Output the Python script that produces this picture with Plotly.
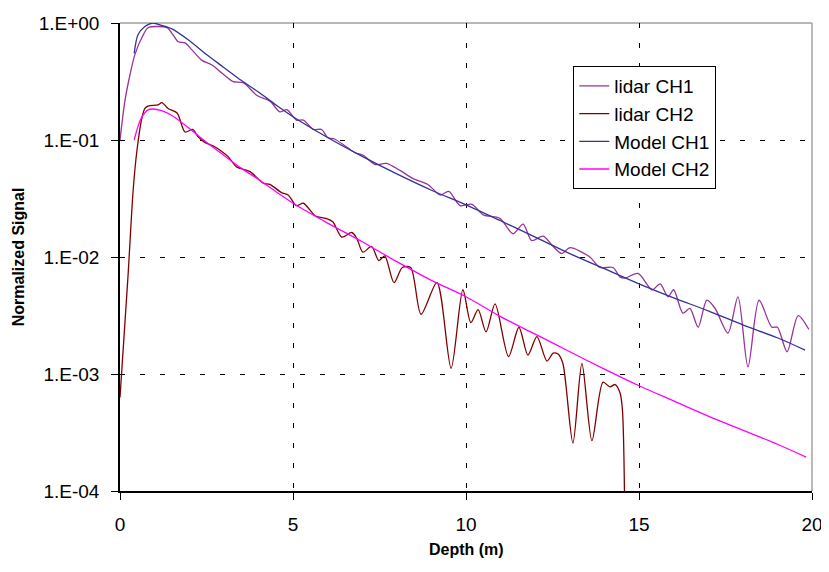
import plotly.graph_objects as go

# ---- data ----
lidar_ch1_x = [0.0, 0.14, 0.29, 0.43, 0.64, 0.81, 1.1, 1.36, 1.53, 1.68, 1.88, 2.08, 2.37, 2.66, 2.95,
               3.27, 3.56, 3.96, 4.34, 4.62, 4.82, 5.1, 5.3, 5.59, 5.83, 6.0, 6.2, 6.55, 6.8, 7.03,
               7.37, 7.7, 8.09, 8.47, 8.9, 9.25, 9.5, 9.83, 10.17, 10.5, 10.98, 11.36, 11.65, 11.9,
               12.23, 12.52, 12.77, 13.0, 13.58, 13.87, 14.25, 14.45, 14.6, 14.97, 15.38, 15.61,
               15.84, 16.0, 16.27, 16.47, 16.71, 16.96, 17.2, 17.57, 17.86, 18.15, 18.47, 18.84,
               19.0, 19.28, 19.6, 19.91]
lidar_ch1_y = [0.100, 0.214, 0.363, 0.537, 0.759, 0.912, 0.933, 0.912, 0.794, 0.692, 0.676, 0.589,
               0.479, 0.437, 0.372, 0.316, 0.309, 0.240, 0.214, 0.174, 0.182, 0.148, 0.148, 0.123,
               0.123, 0.105, 0.102, 0.0871, 0.0776, 0.0741, 0.0617, 0.0631, 0.0550, 0.0468, 0.0417,
               0.0339, 0.0363, 0.0275, 0.0282, 0.0229, 0.0214, 0.0158, 0.0191, 0.0138, 0.0151,
               0.0123, 0.0107, 0.0120, 0.0100, 0.00813, 0.00813, 0.00676, 0.00661, 0.00724,
               0.00525, 0.00589, 0.00457, 0.00525, 0.00331, 0.00363, 0.00251, 0.00427, 0.00363,
               0.00224, 0.00457, 0.00115, 0.00427, 0.00251, 0.00251, 0.00155, 0.00316, 0.00240]

lidar_ch2_x = [0.0, 0.23, 0.38, 0.49, 0.64, 0.72, 0.81, 1.1, 1.21, 1.39, 1.65, 1.88, 2.1, 2.25, 2.45,
               2.75, 2.95, 3.12, 3.37, 3.76, 4.14, 4.33, 4.67, 4.86, 5.1, 5.3, 5.65, 5.95, 6.15,
               6.41, 6.7, 6.84, 7.02, 7.27, 7.48, 7.65, 7.92, 8.16, 8.4, 8.7, 9.16, 9.57, 9.91,
               10.14, 10.35, 10.58, 10.84, 11.23, 11.53, 11.79, 12.05, 12.34, 12.52, 12.66, 12.8,
               13.09, 13.35, 13.64, 13.96, 14.16, 14.31, 14.45, 14.52, 14.6]
lidar_ch2_y = [0.00063, 0.00676, 0.0372, 0.0813, 0.158, 0.186, 0.195, 0.200, 0.209, 0.186, 0.170,
               0.117, 0.123, 0.107, 0.0955, 0.0871, 0.0794, 0.0724, 0.0589, 0.0537, 0.0427,
               0.0417, 0.0355, 0.0339, 0.0275, 0.0288, 0.0224, 0.0214, 0.0200, 0.0148, 0.0162,
               0.0145, 0.0110, 0.0123, 0.00933, 0.0102, 0.00603, 0.00813, 0.00813, 0.00324,
               0.00603, 0.00112, 0.00525, 0.00275, 0.00355, 0.00229, 0.00398, 0.00141, 0.00251,
               0.00145, 0.00209, 0.00129, 0.00151, 0.00148, 0.00123, 0.000257, 0.00123, 0.000269,
               0.000851, 0.000776, 0.000813, 0.000692, 0.0005, 0.00003]

model_ch1_x = [0.41, 0.52, 0.72, 0.95, 1.2, 1.5, 2.0, 2.5, 3.0, 3.5, 4.0, 4.5, 5.0, 6.0, 7.0, 8.0,
               9.0, 10.0, 11.0, 12.0, 13.0, 14.0, 15.0, 16.0, 17.0, 18.0, 19.0, 19.8]
model_ch1_y = [0.550, 0.794, 0.933, 1.0, 0.955, 0.891, 0.708, 0.537, 0.417, 0.324, 0.257, 0.200,
               0.158, 0.105, 0.0724, 0.0513, 0.0372, 0.0279, 0.0204, 0.0148, 0.0107, 0.00794,
               0.00589, 0.00447, 0.00347, 0.00263, 0.00204, 0.00160]

model_ch2_x = [0.41, 0.6, 0.8, 0.95, 1.2, 1.5, 2.0, 2.5, 3.0, 3.5, 4.0, 4.5, 5.0, 6.0, 7.0, 8.0,
               9.0, 10.0, 11.0, 12.0, 13.0, 14.0, 15.0, 16.0, 17.0, 18.0, 19.0, 19.83]
model_ch2_y = [0.100, 0.151, 0.180, 0.184, 0.178, 0.162, 0.126, 0.0955, 0.0741, 0.0575, 0.0461,
               0.0363, 0.0288, 0.0195, 0.0135, 0.00912, 0.00631, 0.00457, 0.00309, 0.00219,
               0.00155, 0.00110, 0.000794, 0.000589, 0.000437, 0.000331, 0.000251, 0.000195]

y_tick_vals = [1e-4, 1e-3, 1e-2, 1e-1, 1e0]
y_tick_text = ["1.E-04", "1.E-03", "1.E-02", "1.E-01", "1.E+00"]
x_tick_vals = [0, 5, 10, 15, 20]

FONT = "Liberation Sans, Arial, sans-serif"

fig = go.Figure()
fig.add_trace(go.Scatter(x=lidar_ch1_x, y=lidar_ch1_y, name="lidar CH1", mode="lines",
                         line=dict(color="#993399", width=1.3, shape="spline", smoothing=0.8)))
fig.add_trace(go.Scatter(x=lidar_ch2_x, y=lidar_ch2_y, name="lidar CH2", mode="lines",
                         line=dict(color="#800000", width=1.3, shape="spline", smoothing=0.8)))
fig.add_trace(go.Scatter(x=model_ch1_x, y=model_ch1_y, name="Model CH1", mode="lines",
                         line=dict(color="#333399", width=1.3, shape="spline", smoothing=0.8)))
fig.add_trace(go.Scatter(x=model_ch2_x, y=model_ch2_y, name="Model CH2", mode="lines",
                         line=dict(color="#FF00FF", width=1.3, shape="spline", smoothing=0.8)))

fig.update_layout(
    width=829, height=572,
    margin=dict(l=112, r=25, t=15, b=89, autoexpand=False),
    paper_bgcolor="white", plot_bgcolor="white",
    font=dict(family=FONT, color="black", size=18),
    showlegend=True,
    legend=dict(x=0.655, y=0.908, xanchor="left", yanchor="top",
                bgcolor="white", bordercolor="black", borderwidth=1,
                font=dict(size=19, family=FONT), itemwidth=30, tracegroupgap=0),
    xaxis=dict(range=[0, 20], tickvals=x_tick_vals, ticks="outside", ticklen=7, tickcolor="black",
               showline=True, linecolor="black", linewidth=1.5, automargin=False,
               ticklabelstandoff=8,
               showgrid=True, gridcolor="black", gridwidth=1, griddash="5px,15px",
               zeroline=False, tickfont=dict(size=19)),
    yaxis=dict(type="log", range=[-4, 0], tickvals=y_tick_vals, ticktext=y_tick_text,
               ticks="outside", ticklen=7, tickcolor="black",
               showline=True, linecolor="black", linewidth=1.5, automargin=False,
               ticklabelstandoff=8,
               showgrid=True, gridcolor="black", gridwidth=1, griddash="5px,15px",
               zeroline=False, tickfont=dict(size=19)),
    annotations=[
        dict(text="<b>Depth (m)</b>", xref="paper", yref="paper", x=0.5, y=-0.124,
             xanchor="center", yanchor="middle", showarrow=False, font=dict(size=16, family=FONT)),
        dict(text="<b>Normalized Signal</b>", xref="paper", yref="paper", x=-0.147, y=0.5,
             xanchor="center", yanchor="middle", showarrow=False, textangle=-90,
             font=dict(size=16, family=FONT)),
    ],
    shapes=[
        dict(type="line", xref="paper", yref="paper", x0=0, x1=1, y0=1, y1=1,
             line=dict(color="#a0a0a0", width=1.5), layer="below"),
        dict(type="line", xref="paper", yref="paper", x0=1, x1=1, y0=0, y1=1,
             line=dict(color="#a0a0a0", width=1.5), layer="above"),
    ],
)

fig.write_html("out.html")
